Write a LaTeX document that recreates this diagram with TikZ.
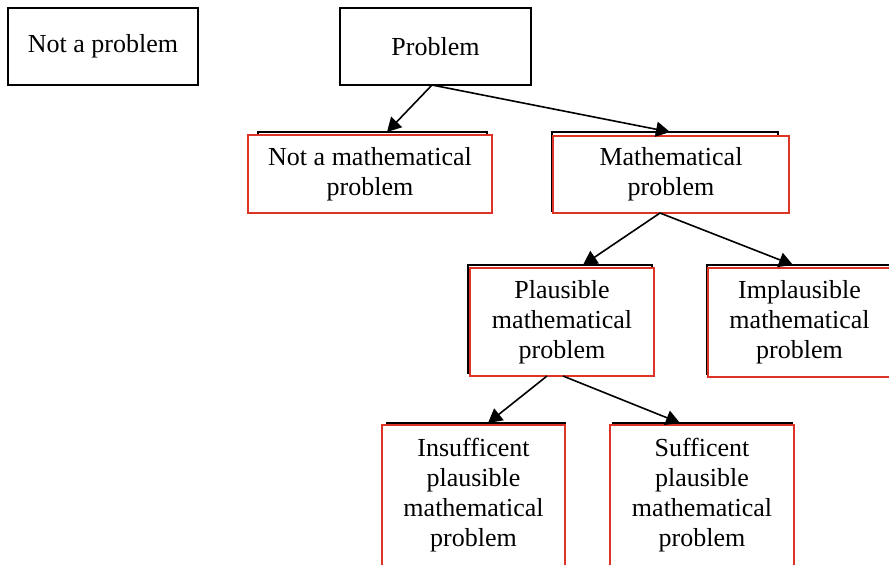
\documentclass[tikz,border=0pt]{standalone}
\usepackage{fontspec}
\setmainfont{Liberation Serif}
\usepackage{tikz}
\usetikzlibrary{arrows.meta, calc}
\definecolor{boxred}{RGB}{222,52,40}

\begin{document}
\begin{tikzpicture}[
    x=0.5pt, y=-0.5pt,
    topbox/.style={rectangle, draw=black, line width=0.8pt, fill=white, inner sep=0pt, outer sep=0pt, minimum width=95pt, minimum height=38.5pt, font=\fontsize{13}{15}\selectfont},
    backbox/.style={rectangle, draw=black, line width=0.9pt, fill=white, inner sep=0pt, outer sep=0pt},
    redbox/.style={rectangle, draw=boxred, line width=0.8pt, fill=white, inner sep=0pt, outer sep=0pt, align=center, font=\fontsize{13}{15}\selectfont},
    arrow/.style={-{Triangle[length=7pt, width=7.5pt]}, line width=0.8pt}
]
    \useasboundingbox (0,0) rectangle (889,564);

    % Top row
    \node (notprob) [topbox] at (103,46.5) {Not a problem};
    \node (prob) [topbox, minimum width=95.5pt] at (435.5,46.5) {Problem};

    % Second row (black box behind, red box in front)
    \node (nmpback) [backbox, minimum width=114.5pt, minimum height=39pt] at (372.5,171) {};
    \node (nmp) [redbox, minimum width=122pt, minimum height=39pt] at (370,174) {Not a mathematical\\problem};
    \node (mpback) [backbox, minimum width=113pt, minimum height=39.5pt] at (665,171.5) {};
    \node (mp) [redbox, minimum width=118pt, minimum height=38.5pt] at (671,174.5) {Mathematical\\problem};

    % Third row
    \node (plback) [backbox, minimum width=92pt, minimum height=54pt] at (560,319) {};
    \node (pl) [redbox, minimum width=92pt, minimum height=54pt] at (562,322) {Plausible\\mathematical\\problem};
    \node (implback) [backbox, minimum width=92pt, minimum height=54.5pt] at (799,319.5) {};
    \node (impl) [redbox, minimum width=91.5pt, minimum height=54.5pt] at (799.5,322.5) {Implausible\\mathematical\\problem};

    % Fourth row
    \node (insback) [backbox, minimum width=89pt, minimum height=71.5pt] at (476,494.5) {};
    \node (ins) [redbox, minimum width=91.5pt, minimum height=70.5pt] at (473.5,495.5) {Insufficent\\plausible\\mathematical\\problem};
    \node (sufback) [backbox, minimum width=89.5pt, minimum height=71.5pt] at (702.5,494.5) {};
    \node (suf) [redbox, minimum width=92pt, minimum height=70.5pt] at (702,495.5) {Sufficent\\plausible\\mathematical\\problem};

    % Arrows
    \draw [arrow] ($(prob.south)+(-3.5,0)$) -- ($(nmpback.north)+(14.5,0)$);
    \draw [arrow] ($(prob.south)+(-3.5,0)$) -- ($(mpback.north)+(5,0)$);
    \draw [arrow] ($(mp.south)+(-11,0)$) -- ($(plback.north)+(23,0)$);
    \draw [arrow] ($(mp.south)+(-11,0)$) -- ($(implback.north)+(-6,0)$);
    \draw [arrow] ($(pl.south)+(-15,0)$) -- ($(insback.north)+(12,0)$);
    \draw [arrow] ($(pl.south)+(1,0)$) -- ($(sufback.north)+(-22.5,0)$);
\end{tikzpicture}
\end{document}
